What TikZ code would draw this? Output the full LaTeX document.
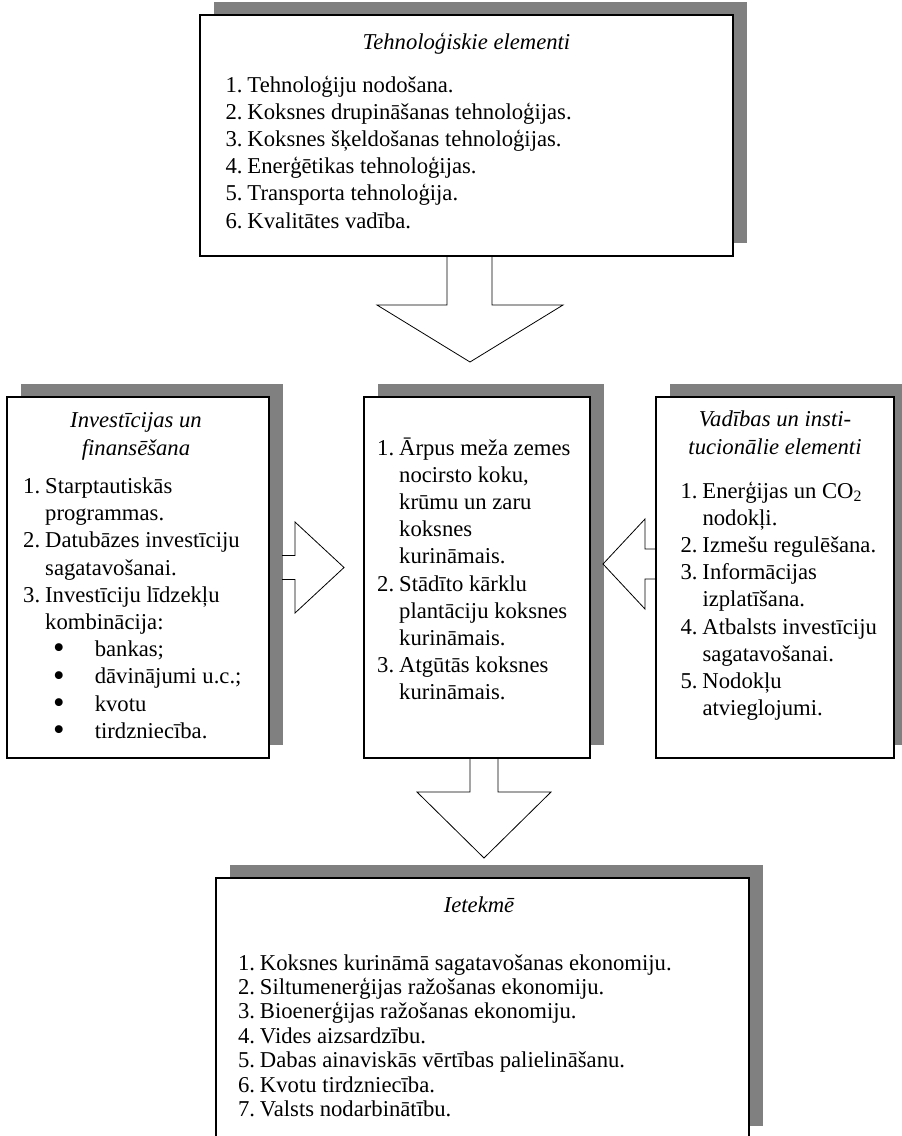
\documentclass[tikz,border=0pt]{standalone}
\usepackage{fontspec}
\setmainfont{Liberation Serif}
\usetikzlibrary{calc,backgrounds}

\definecolor{shadowgrey}{RGB}{128,128,128}
\newcommand{\itemnr}[1]{\makebox[16.5pt][l]{#1}}
\newcommand{\bulletnr}{\makebox[53.7pt][l]{\hspace*{22.5pt}\raisebox{-1.6pt}{\scalebox{1.45}{\textbullet}}}}

\tikzset{every picture/.style={line width=0.75pt}}
\tikzset{
  box/.style={draw, fill=white, line width=1pt, inner sep=0pt, outer sep=0pt},
  boxtitle/.style={anchor=base, inner sep=0pt, font=\fontsize{17}{21}\selectfont\itshape},
  boxlist/.style={anchor=base west, inner sep=0pt, font=\fontsize{17}{20.4}\selectfont},
  blockarrow/.style={line width=0.6pt, line join=miter},
}

\begin{document}
\begin{tikzpicture}[x=0.75pt,y=0.75pt,yscale=-1,xscale=1]
\useasboundingbox (0,0) rectangle (902,1136);

%Shape: Rectangle
\node[box, minimum width=399.75pt, minimum height=180.75pt] (tech) at (466.5,135.5) {};
%Shape: Rectangle
\node[box, minimum width=196.5pt, minimum height=270.75pt] (inv) at (138,577.5) {};
%Shape: Rectangle
\node[box, minimum width=169.5pt, minimum height=270.75pt] (fuel) at (477,577.5) {};
%Shape: Rectangle
\node[box, minimum width=178.5pt, minimum height=270.75pt] (gov) at (775,577.5) {};
%Shape: Rectangle
\node[box, minimum width=399.75pt, minimum height=195.75pt] (impact) at (482.5,1008.5) {};

%Shadows
\begin{scope}[on background layer]
\foreach \b in {tech,inv,fuel,gov,impact}
  \fill[shadowgrey] ($(\b.south west)+(13.5,-13.5)$) rectangle ($(\b.north east)+(13.5,-13.5)$);
\end{scope}

%Shape: Down Arrow
\draw[blockarrow] ($(tech.south)+(-19.5,0)$) -- ++(0,49) -- ++(-70,0) -- ++(93,57) -- ++(93,-57) -- ++(-71,0) -- ++(0,-49);
%Shape: Right Arrow
\draw[blockarrow] ($(inv.east)+(13,-22)$) -- ++(13,0) -- ++(0,-33.5) -- ++(49,45.5) -- ++(-49,45.5) -- ++(0,-33.5) -- ++(-13,0);
%Shape: Left Arrow
\draw[blockarrow] ($(gov.west)+(0,-28.5)$) -- ++(-11,0) -- ++(0,-30) -- ++(-42,45) -- ++(42,45) -- ++(0,-30) -- ++(11,0);
%Shape: Down Arrow
\draw[blockarrow] ($(fuel.south)+(-7,0)$) -- ++(0,34) -- ++(-53,0) -- ++(67,66) -- ++(67,-66) -- ++(-53,0) -- ++(0,-34);

% Text Node
\node[boxtitle] (techtitle) at (466.5,49) {Tehnoloģiskie elementi};
% Text Node
\node[boxlist] (techlist) at (225,92) {\begin{tabular}[t]{@{}l@{}}
\itemnr{1.}Tehnoloģiju nodošana.\\
\itemnr{2.}Koksnes drupināšanas tehnoloģijas.\\
\itemnr{3.}Koksnes šķeldošanas tehnoloģijas.\\
\itemnr{4.}Enerģētikas tehnoloģijas.\\
\itemnr{5.}Transporta tehnoloģija.\\
\itemnr{6.}Kvalitātes vadība.
\end{tabular}};

% Text Node
\node[boxtitle] (invtitle) at (136,427) {\begin{tabular}[t]{@{}c@{}}Investīcijas un\\finansēšana\end{tabular}};
% Text Node
\node[boxlist] (invlist) at (22.7,493.5) {\begin{tabular}[t]{@{}l@{}}
\itemnr{1.}Starptautiskās\\
\itemnr{}programmas.\\
\itemnr{2.}Datubāzes investīciju\\
\itemnr{}sagatavošanai.\\
\itemnr{3.}Investīciju līdzekļu\\
\itemnr{}kombinācija:\\
\bulletnr bankas;\\
\bulletnr dāvinājumi u.c.;\\
\bulletnr kvotu\\
\bulletnr tirdzniecība.
\end{tabular}};

% Text Node
\node[boxlist] (fuellist) at (376.7,455) {\begin{tabular}[t]{@{}l@{}}
\itemnr{1.}Ārpus meža zemes\\
\itemnr{}nocirsto koku,\\
\itemnr{}krūmu un zaru\\
\itemnr{}koksnes\\
\itemnr{}kurināmais.\\
\itemnr{2.}Stādīto kārklu\\
\itemnr{}plantāciju koksnes\\
\itemnr{}kurināmais.\\
\itemnr{3.}Atgūtās koksnes\\
\itemnr{}kurināmais.
\end{tabular}};

% Text Node
\node[boxtitle] (govtitle) at (775,426) {\begin{tabular}[t]{@{}c@{}}Vadības un insti-\\tucionālie elementi\end{tabular}};
% Text Node
\node[boxlist] (govlist) at (680,498) {\begin{tabular}[t]{@{}l@{}}
\itemnr{1.}Enerģijas un CO\textsubscript{2}\\
\itemnr{}nodokļi.\\
\itemnr{2.}Izmešu regulēšana.\\
\itemnr{3.}Informācijas\\
\itemnr{}izplatīšana.\\
\itemnr{4.}Atbalsts investīciju\\
\itemnr{}sagatavošanai.\\
\itemnr{5.}Nodokļu\\
\itemnr{}atvieglojumi.
\end{tabular}};

% Text Node
\node[boxtitle] (impacttitle) at (479,912) {Ietekmē};
% Text Node
\node[boxlist, font=\fontsize{17}{18.3}\selectfont] (impactlist) at (237.5,970) {\begin{tabular}[t]{@{}l@{}}
\itemnr{1.}Koksnes kurināmā sagatavošanas ekonomiju.\\
\itemnr{2.}Siltumenerģijas ražošanas ekonomiju.\\
\itemnr{3.}Bioenerģijas ražošanas ekonomiju.\\
\itemnr{4.}Vides aizsardzību.\\
\itemnr{5.}Dabas ainaviskās vērtības palielināšanu.\\
\itemnr{6.}Kvotu tirdzniecība.\\
\itemnr{7.}Valsts nodarbinātību.
\end{tabular}};
\end{tikzpicture}
\end{document}
